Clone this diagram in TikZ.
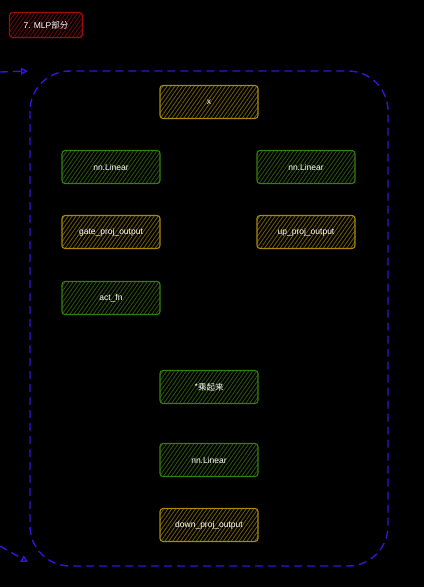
\documentclass[tikz,border=0pt]{standalone}
\usepackage{fontspec}
\setmainfont{Liberation Sans}
\newfontfamily\cjk{Noto Sans CJK SC}
\usepackage{tikz}
\usetikzlibrary{arrows.meta,patterns.meta}

\definecolor{frameblue}{HTML}{3A12D6}
\definecolor{opgreen}{HTML}{35800C}
\definecolor{opgreenhatch}{HTML}{2A520F}
\definecolor{dataamber}{HTML}{A88A08}
\definecolor{dataamberhatch}{HTML}{6A5808}
\definecolor{titlered}{HTML}{A00C0C}
\definecolor{titleredhatch}{HTML}{640909}

\tikzset{
  sketchbox/.style={draw,line width=1.1pt,rounded corners=3pt,
    minimum width=98pt,minimum height=33pt,inner sep=0pt,
    font=\fontsize{8.5}{10}\selectfont,text=white},
  opbox/.style={sketchbox,draw=opgreen,
    pattern={Lines[angle=55,distance=3.2pt,line width=0.9pt]},pattern color=opgreenhatch},
  databox/.style={sketchbox,draw=dataamber,
    pattern={Lines[angle=55,distance=3.2pt,line width=0.9pt]},pattern color=dataamberhatch},
  titlebox/.style={sketchbox,draw=titlered,
    pattern={Lines[angle=55,distance=3.2pt,line width=0.9pt]},pattern color=titleredhatch,
    minimum width=73pt,minimum height=25pt},
  framedash/.style={draw=frameblue,line width=1.4pt,dash pattern=on 8pt off 5pt},
}

\begin{document}
\begin{tikzpicture}[x=1pt,y=-1pt]

% Background
\fill[black] (0,0) rectangle (424,587);
\useasboundingbox (0,0) rectangle (424,587);

%-------------------------------------------------------------------
% Title
\node[titlebox] (title) at (46,25) {7. MLP{\cjk 部分}};

%-------------------------------------------------------------------
% Dashed frame around the MLP block
\draw[framedash,rounded corners=40pt] (30,71) rectangle (388,566);

% Incoming / outgoing arrows
\coordinate (inA) at (0,72);
\coordinate (inB) at (28,71);
\coordinate (outA) at (0,546);
\coordinate (outB) at (28,562);
\draw[framedash,-{Triangle[open,length=7pt,width=7pt]}] (inA)--(inB);
\draw[framedash,-{Triangle[open,length=7pt,width=7pt]}] (outA)--(outB);

%-------------------------------------------------------------------
% Boxes: name/x/y/style/text
\foreach \nm/\cx/\cy/\kind/\txt in {
    x/209/102/databox/x,
    gatelin/111/167/opbox/nn.Linear,
    uplin/306/167/opbox/nn.Linear,
    gateout/111/232/databox/gate\_proj\_output,
    upout/306/232/databox/up\_proj\_output,
    act/111/298/opbox/act\_fn,
    mul/209/387/opbox/{{\cjk *乘起来}},
    downlin/209/460/opbox/nn.Linear,
    downout/209/525/databox/down\_proj\_output}{
    \node[\kind] (\nm) at (\cx,\cy) {\txt};
}

\end{tikzpicture}
\end{document}
